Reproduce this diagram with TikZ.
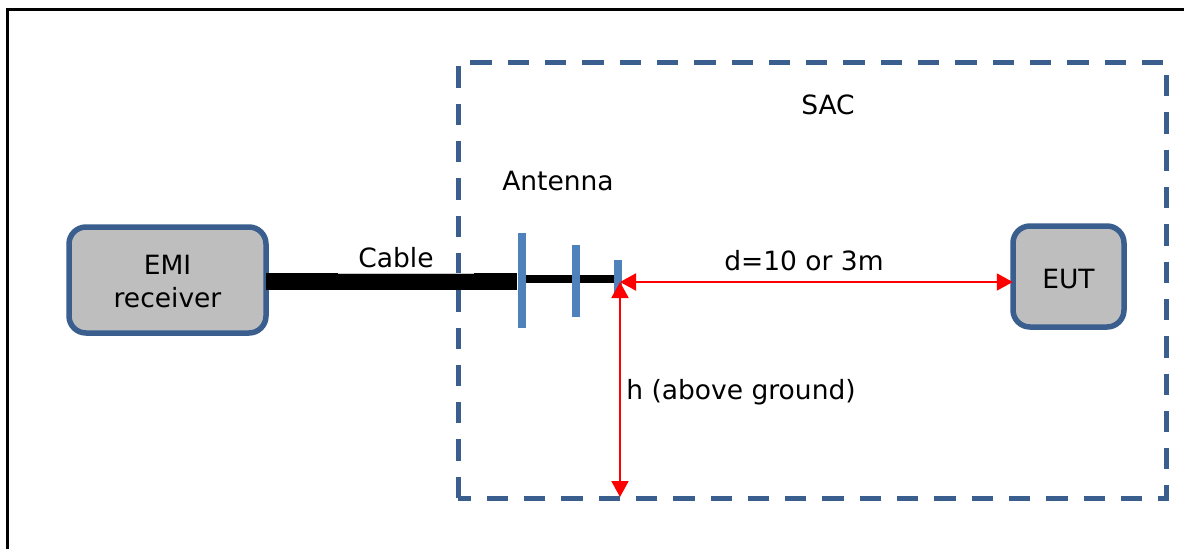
\documentclass[tikz,border=0pt]{standalone}
\usepackage{fontspec}
\setmainfont{DejaVu Sans}
\usetikzlibrary{arrows.meta}
\definecolor{boxline}{HTML}{3A5F8F}
\definecolor{antblue}{HTML}{4F81BD}
\definecolor{boxgray}{HTML}{BEBEBE}
\newcommand{\lab}{\fontsize{26.5}{33}\selectfont}
\tikzset{
  unitbox/.style={draw=boxline,line width=5.5pt,fill=boxgray,rounded corners=17pt,inner sep=0pt,align=center,font=\lab,text=black},
  antbar/.style={fill=antblue,draw=none,inner sep=0pt,minimum width=8pt},
  lab/.style={inner sep=0pt,font=\lab,text=black},
  dim/.style={red,line width=2pt,{Triangle[width=17pt,length=16pt]}-{Triangle[width=17pt,length=16pt]}},
  thickcable/.style={draw=black,line width=17.4pt},
  thincable/.style={draw=black,line width=8pt},
  frameline/.style={draw=black,line width=3pt},
  sacline/.style={draw=boxline,line width=5pt,dash pattern=on 21.3pt off 16pt}
}
\begin{document}
\begin{tikzpicture}[x=1pt,y=-1pt]
\useasboundingbox (0,0) rectangle (1184,549);
\fill[white] (0,0) rectangle (1184,549);
\coordinate (fa) at (7.5,549);
\coordinate (fb) at (7.5,9);
\coordinate (fc) at (1184,9);
\draw[frameline] (fa) -- (fb) -- (fc);
\coordinate (sa) at (458,62.8);
\coordinate (sb) at (1166.8,498);
\draw[sacline] (sa |- sb) -- (sa) -- (sb |- sa) -- (sb) -- cycle;
\node[unitbox,minimum width=197pt,minimum height=106pt] (emi) at (167.5,280) {\rule{0pt}{23pt}EMI\\receiver};
\node[unitbox,minimum width=111pt,minimum height=101pt] (eut) at (1068.5,276.5) {\rule{0pt}{24pt}EUT};
\node[antbar,minimum height=95pt] (ant1) at (521.5,280.5) {};
\node[antbar,minimum height=72pt] (ant2) at (576,281) {};
\node[antbar,minimum height=36pt] (ant3) at (618,278) {};
\draw[thickcable] ([xshift=-3pt,yshift=-1.4pt]emi.east) -- (ant1.west |- 0,281.4);
\draw[thincable] (ant1.east |- 0,278.5) -- (ant2.west |- 0,278.5);
\draw[thincable] (ant2.east |- 0,278.5) -- (ant3.west |- 0,278.5);
\node[inner sep=0pt,fill=black!22,minimum width=136pt,minimum height=1pt] (gap) at (406,273.2) {};
\coordinate (tip) at (620,282);
\coordinate (gnd) at (620,497);
\draw[dim] (tip) -- ([xshift=2.5pt]tip -| eut.west);
\draw[dim] (tip) -- (gnd);
\node[lab] (sac) at (828,105) {SAC};
\node[lab] (antenna) at (558,181) {Antenna};
\node[lab] (cable) at (396,258) {Cable};
\node[lab] (dist) at (804,261) {d=10 or 3m};
\node[lab] (height) at (741,392.5) {h (above ground)};
\end{tikzpicture}
\end{document}
